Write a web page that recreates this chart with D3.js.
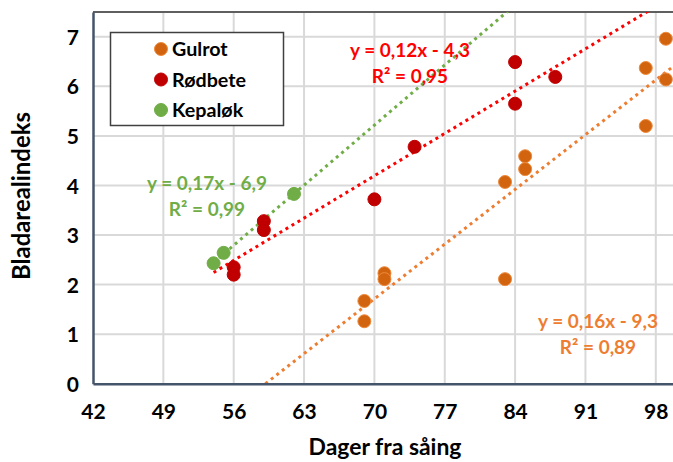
<!DOCTYPE html>
<html>
<head>
<meta charset="utf-8">
<script src="https://cdn.jsdelivr.net/npm/d3@7"></script>
<style>
  html, body { margin: 0; padding: 0; background: #fff; }
  svg { display: block; font-family: Lato, "Open Sans", sans-serif; font-weight: bold; }
</style>
</head>
<body>
<svg id="chart" width="673" height="462"></svg>
<script>
// Days after sowing and leaf area index for each crop
const gulrotX = [69, 69, 71, 71, 83, 83, 85, 85, 97, 97, 99, 99];
const gulrotY = [1.67, 1.26, 2.23, 2.11, 2.11, 4.07, 4.59, 4.33, 6.37, 5.20, 6.96, 6.14];
const rodbeteX = [56, 56, 59, 59, 70, 74, 84, 84, 88];
const rodbeteY = [2.35, 2.20, 3.28, 3.10, 3.72, 4.78, 6.49, 5.65, 6.19];
const kepalokX = [54, 55, 62];
const kepalokY = [2.43, 2.64, 3.83];

const xTicks = [42, 49, 56, 63, 70, 77, 84, 91, 98];
const yTicks = [0, 1, 2, 3, 4, 5, 6, 7];

const seriesNames = ["Gulrot", "Rødbete", "Kepaløk"];
const equations = ["y = 0,16x - 9,3", "y = 0,12x - 4,3", "y = 0,17x - 6,9"];
const rSquared = ["R² = 0,89", "R² = 0,95", "R² = 0,99"];
// trendline start (x) for each series
const trendStart = [55, 54, 54];

const colors = {
  Gulrot: { fill: "#D2640F", stroke: "#EE8A3C", line: "#ED7D31", text: "#ED7D31" },
  "Rødbete": { fill: "#C00000", stroke: "#C00000", line: "#FF0000", text: "#FF0000" },
  "Kepaløk": { fill: "#70AD47", stroke: "#70AD47", line: "#70AD47", text: "#70AD47" }
};

const series = [
  { name: seriesNames[0], xs: gulrotX, ys: gulrotY, eq: equations[0], r2: rSquared[0], start: trendStart[0], labelPos: [598, 321] },
  { name: seriesNames[1], xs: rodbeteX, ys: rodbeteY, eq: equations[1], r2: rSquared[1], start: trendStart[1], labelPos: [410, 50] },
  { name: seriesNames[2], xs: kepalokX, ys: kepalokY, eq: equations[2], r2: rSquared[2], start: trendStart[2], labelPos: [207, 183] }
];

const svg = d3.select("#chart");
const plotLeft = 93, plotTop = 12, plotBottom = 383.7;
const x = d3.scaleLinear().domain([42, 100]).range([plotLeft, plotLeft + 58 * 10.05]);
const y = d3.scaleLinear().domain([0, 7.5]).range([plotBottom, plotTop]);
const plotRight = x(100);

// scale a text's font so it spans the given width; returns the new size
function fitWidth(sel, width) {
  const fs = parseFloat(sel.attr("font-size"));
  const w = sel.node().getComputedTextLength();
  const size = +(fs * width / w).toFixed(2);
  sel.attr("font-size", size);
  return size;
}

// clip region for plotted content
svg.append("defs").append("clipPath").attr("id", "plotClip")
  .append("rect").attr("x", plotLeft).attr("y", plotTop)
  .attr("width", plotRight - plotLeft).attr("height", plotBottom - plotTop);

// gridlines
const grid = svg.append("g");
grid.selectAll("line.v").data(xTicks.slice(1)).join("line")
  .attr("x1", d => x(d)).attr("x2", d => x(d)).attr("y1", plotTop).attr("y2", plotBottom)
  .attr("stroke", "#D9D9D9").attr("stroke-width", 2);
grid.selectAll("line.h").data(yTicks.slice(1)).join("line")
  .attr("x1", plotLeft).attr("x2", plotRight).attr("y1", d => y(d)).attr("y2", d => y(d))
  .attr("stroke", "#D9D9D9").attr("stroke-width", 2);

// plot-area border (top)
svg.append("line").attr("x1", plotLeft).attr("x2", plotRight).attr("y1", plotTop).attr("y2", plotTop)
  .attr("stroke", "#5F5F5F").attr("stroke-width", 2);

// least-squares trendlines
function fit(xs, ys) {
  const mx = d3.mean(xs), my = d3.mean(ys);
  const sxy = d3.sum(xs, (v, i) => (v - mx) * (ys[i] - my));
  const sxx = d3.sum(xs, v => (v - mx) * (v - mx));
  const b = sxy / sxx;
  return { b, a: my - b * mx };
}
const trend = svg.append("g").attr("clip-path", "url(#plotClip)");
series.forEach(s => {
  const f = fit(s.xs, s.ys);
  const x0 = Math.max(s.start, -f.a / f.b);
  const x1 = 100;
  trend.append("line")
    .attr("x1", x(x0)).attr("y1", y(f.a + f.b * x0))
    .attr("x2", x(x1)).attr("y2", y(f.a + f.b * x1))
    .attr("stroke", colors[s.name].line).attr("stroke-width", 3)
    .attr("stroke-dasharray", "3 4");
});

// axes
const xAxis = svg.append("g").attr("transform", `translate(0,${plotBottom})`)
  .call(d3.axisBottom(x).tickValues(xTicks).tickSize(0).tickPadding(20));
const yAxis = svg.append("g").attr("transform", `translate(${plotLeft},0)`)
  .call(d3.axisLeft(y).tickValues(yTicks).tickSize(0).tickPadding(14));
[xAxis, yAxis].forEach(a => {
  a.select(".domain").attr("stroke", "#44546A").attr("stroke-width", 2.5);
  a.selectAll("text").attr("font-size", 21).attr("font-weight", "bold")
    .attr("font-family", "Lato, sans-serif").attr("fill", "#000");
});
yAxis.selectAll("text").attr("dy", "0.36em");
xAxis.selectAll("text").attr("dy", "0.72em");

// points
const pts = svg.append("g");
series.forEach(s => {
  pts.selectAll(null).data(s.xs.map((v, i) => [v, s.ys[i]])).join("circle")
    .attr("cx", d => x(d[0])).attr("cy", d => y(d[1])).attr("r", 6.5)
    .attr("fill", colors[s.name].fill)
    .attr("stroke", colors[s.name].stroke).attr("stroke-width", 1);
});

// trendline equations
series.forEach(s => {
  const g = svg.append("g").attr("fill", colors[s.name].text).attr("text-anchor", "middle");
  const t1 = g.append("text").attr("font-size", 17).attr("x", s.labelPos[0]).attr("y", s.labelPos[1])
    .attr("dy", "0.35em").text(s.eq);
  const size = fitWidth(t1, 120);
  g.append("text").attr("font-size", size).attr("x", s.labelPos[0])
    .attr("y", s.labelPos[1] + 26).attr("dy", "0.35em").text(s.r2);
});

// legend
const legend = svg.append("g");
legend.append("rect").attr("x", 110.5).attr("y", 32.5).attr("width", 173).attr("height", 93)
  .attr("fill", "#fff").attr("stroke", "#404040").attr("stroke-width", 1.5);
const legendRows = legend.selectAll("g.row").data(seriesNames).join("g")
  .attr("class", "row")
  .attr("transform", (d, i) => `translate(0,${49 + i * 30.5})`);
legendRows.append("circle").attr("cx", 161).attr("r", 6.5)
  .attr("fill", d => colors[d].fill).attr("stroke", d => colors[d].stroke);
const legendText = legendRows.append("text").attr("x", 172).attr("dy", "0.36em")
  .attr("font-size", 18).attr("fill", "#000").text(d => d);
// size all labels from the widest one
legendText.attr("font-size", fitWidth(legendText.filter((d, i) => i === 1), 74));

// axis titles
const xt = svg.append("text").attr("x", 385).attr("y", 455).attr("text-anchor", "middle")
  .attr("font-size", 20).attr("fill", "#000").text("Dager fra såing");
fitWidth(xt, 153);
const yt = svg.append("text").attr("transform", "translate(21,196) rotate(-90)").attr("dy", "0.36em")
  .attr("text-anchor", "middle").attr("font-size", 20).attr("fill", "#000").text("Bladarealindeks");
fitWidth(yt, 168);
</script>
</body>
</html>
